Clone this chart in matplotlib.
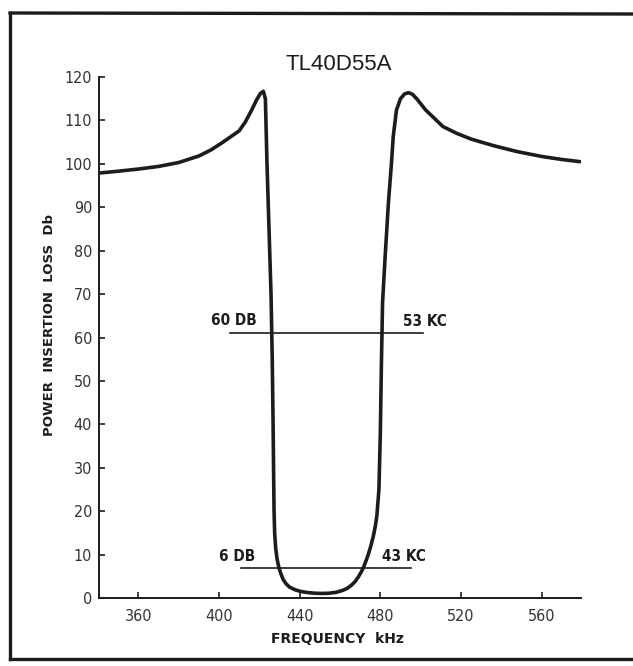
import matplotlib
matplotlib.use("Agg")
import matplotlib.pyplot as plt
from matplotlib.lines import Line2D
from matplotlib import font_manager

# =====================================
# Data
# =====================================
freq_khz = [
    341, 350, 360, 370, 380, 390, 396, 402, 406, 410, 413, 416, 418.5, 420.5,
    422, 423, 423.8, 424.8, 425.8, 426.4, 426.8, 427.1, 427.3, 427.6, 428.1,
    428.8, 429.6, 430.6, 431.8, 433.2, 435, 437.7, 440.5, 444, 447.5, 451,
    454.5, 458, 461, 463.5, 465.8, 467.5, 469, 470.3, 471.5, 472.7, 474,
    475.3, 476.5, 477.5, 478.3, 479.3, 480.0, 480.5, 481.1, 482.3, 484, 485.5,
    486.4, 488, 490, 492, 494, 496, 498, 502.5, 511, 518, 525, 536, 548, 560,
    570, 579,
]
loss_db = [
    97.9, 98.3, 98.8, 99.4, 100.3, 101.8, 103.2, 105.0, 106.3, 107.6, 109.6,
    112.2, 114.6, 116.2, 116.7, 115.0, 100, 85, 70, 55, 41, 28, 20, 15, 11.5,
    9.0, 7.2, 5.7, 4.3, 3.3, 2.5, 1.9, 1.5, 1.25, 1.1, 1.05, 1.1, 1.3, 1.7,
    2.2, 3.0, 3.8, 4.8, 5.8, 6.9, 8.3, 10.0, 12.0, 14.2, 16.5, 19.0, 25, 38,
    53, 68, 78, 91, 100, 106.3, 112.4, 115.0, 116.1, 116.4, 116.0, 115.0,
    112.4, 108.6, 107.0, 105.7, 104.2, 102.8, 101.7, 101.0, 100.5,
]

x_ticks = [360, 400, 440, 480, 520, 560]
y_ticks = [0, 10, 20, 30, 40, 50, 60, 70, 80, 90, 100, 110, 120]

# bandwidth markers: (level dB, start kHz, end kHz)
markers = [
    (61, 405.5, 501),
    (6.8, 411, 495),
]
# marker texts: (kHz, dB, text, alignment)
marker_texts = [
    (418.8, 63.9, "60 DB", "right"),
    (491.2, 63.7, "53 KC", "left"),
    (418.2, 9.5, "6 DB", "right"),
    (481.0, 9.5, "43 KC", "left"),
]

INK = "#1c1c1c"
names = {f.name for f in font_manager.fontManager.ttflist}
NARROW_FAMILY = "Liberation Sans Narrow" if "Liberation Sans Narrow" in names else "DejaVu Sans"
NARROW = font_manager.FontProperties(family=NARROW_FAMILY, stretch="condensed", size=11.5)
NARROW_BOLD = font_manager.FontProperties(family=NARROW_FAMILY, stretch="condensed",
                                          weight="bold", size=11)

# =====================================
# Plot
# =====================================
fig = plt.figure(figsize=(6.33, 6.66), dpi=100, facecolor="white")
ax = fig.add_axes([99 / 633, 1 - 598 / 666, 482 / 633, 521 / 666])

ax.plot(freq_khz, loss_db, color=INK, linewidth=2.6,
        solid_capstyle="round", solid_joinstyle="round")

for level, x0, x1 in markers:
    ax.plot([x0, x1], [level, level], color=INK, linewidth=1.2)

for x, y, txt, ha in marker_texts:
    ax.text(x, y, txt, ha=ha, va="center", fontproperties=NARROW_BOLD, color=INK)

ax.set_xlim(340.5, 579.5)
ax.set_ylim(0, 120)
ax.set_xticks(x_ticks)
ax.set_yticks(y_ticks)

for side in ("top", "right"):
    ax.spines[side].set_visible(False)
for side in ("left", "bottom"):
    ax.spines[side].set_linewidth(1.4)
    ax.spines[side].set_color(INK)

ax.tick_params(axis="y", direction="in", length=4, width=1.2, pad=5, colors=INK)
ax.tick_params(axis="x", direction="in", length=4, width=1.2, pad=8, colors=INK)
for lab in ax.get_xticklabels() + ax.get_yticklabels():
    lab.set_fontproperties(NARROW)
    lab.set_color("#333333")

fig.text(339 / 633, 1 - 65 / 666, "TL40D55A", ha="center", va="center",
         fontsize=16, family=["Liberation Sans", "DejaVu Sans"], color=INK)
fig.text(50 / 633, 1 - 325 / 666, "POWER  INSERTION  LOSS  Db", rotation=90,
         ha="center", va="center", fontsize=9.5, fontweight="bold", color=INK)
fig.text(337 / 633, 1 - 639 / 666, "FREQUENCY  kHz", ha="center", va="center",
         fontsize=10, fontweight="bold", color=INK)

# outer frame (left, top and bottom edges only, as in the scan)
frame = [
    ([10 / 633, 10 / 633], [1 - 13 / 666, 1 - 659 / 666]),
    ([10 / 633, 1.0], [1 - 13 / 666, 1 - 14 / 666]),
    ([10 / 633, 1.0], [1 - 659 / 666, 1 - 659 / 666]),
]
for xs, ys in frame:
    fig.add_artist(Line2D(xs, ys, transform=fig.transFigure, color=INK,
                          linewidth=2.4))

fig.savefig("out.png", dpi=100, facecolor="white")
